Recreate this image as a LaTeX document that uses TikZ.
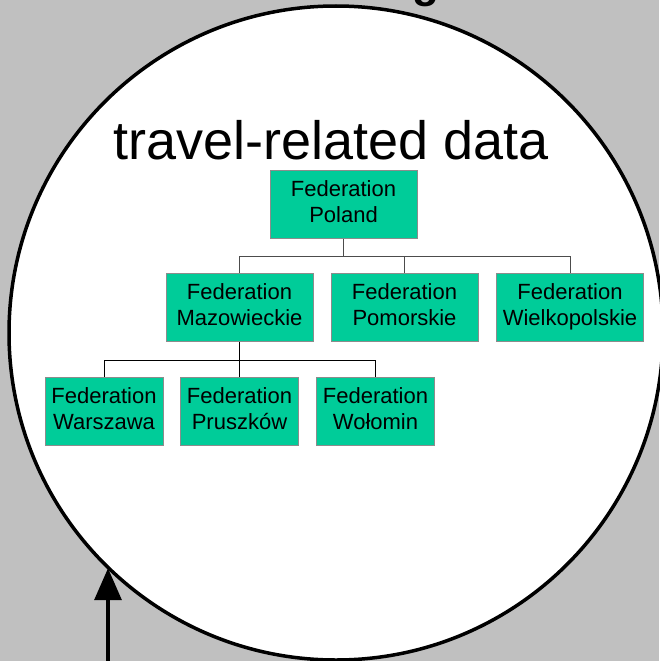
\documentclass[tikz,border=0pt]{standalone}
\usepackage{fontspec}
\setmainfont{Liberation Sans}
\usetikzlibrary{arrows.meta,positioning}
\definecolor{fedgreen}{HTML}{00CC99}
\definecolor{slidegrey}{HTML}{C0C0C0}
\definecolor{fedrim}{HTML}{8C8C8C}
\newcommand{\fedtxt}[1]{Federation\strut\\#1\strut}
\tikzset{
  fed/.style={draw=fedrim, fill=fedgreen, line width=1pt, align=center, font=\fontsize{22}{26}\selectfont, minimum height=68pt, inner sep=0pt},
  fedwide/.style={fed, minimum width=147pt},
  fednarrow/.style={fed, minimum width=118pt},
  tree/.style={draw=black!70, line width=1pt},
  arr/.style={-{Triangle[length=32pt,width=27pt]}, line width=3.5pt},
}
\begin{document}
\begin{tikzpicture}[x=1pt,y=1pt]
  % slide background
  \fill[slidegrey] (0,0) rectangle (659,-661);
  \useasboundingbox (0,0) rectangle (659,-661);
  \node[anchor=base, font=\bfseries\fontsize{44}{44}\selectfont] (cut) at (426,2) {g};
  \node[circle, draw, fill=white, line width=3.5pt, minimum size=654pt, inner sep=0pt, outer sep=0pt] (ring) at (336,-333) {};
  \node[anchor=base, font=\fontsize{54}{54}\selectfont] (title) at (331,-159) {travel-related data};
  % federations
  \node[fedwide] (fedPL) at (343.5,-204) {\fedtxt{Poland}};
  \node[fedwide] (fedMZ) at (239.5,-307.5) {\fedtxt{Mazowieckie}};
  \node[fedwide] (fedPM) at (404.5,-307.5) {\fedtxt{Pomorskie}};
  \node[fedwide] (fedWP) at (570,-307.5) {\fedtxt{Wielkopolskie}};
  \node[fednarrow] (fedWA) at (104,-411) {\fedtxt{Warszawa}};
  \node[fednarrow] (fedPR) at (239.5,-411) {\fedtxt{Pruszków}};
  \node[fednarrow] (fedWO) at (375.5,-411) {\fedtxt{Wołomin}};
  % tree
  \draw[tree] (fedPL.south) -- ++(0,-18) coordinate (busPL);
  \foreach \n in {fedMZ,fedPM,fedWP} \draw[tree] (busPL) -| (\n.north);
  \draw[tree, draw=black] (fedMZ.south) -- ++(0,-18) coordinate (busMZ);
  \foreach \n in {fedWA,fedPR,fedWO} \draw[tree, draw=black] (busMZ) -| (\n.north);
  % pointer
  \coordinate (foot) at (108,-661);
  \draw[arr] (foot) -- (foot |- ring.226);
\end{tikzpicture}
\end{document}
